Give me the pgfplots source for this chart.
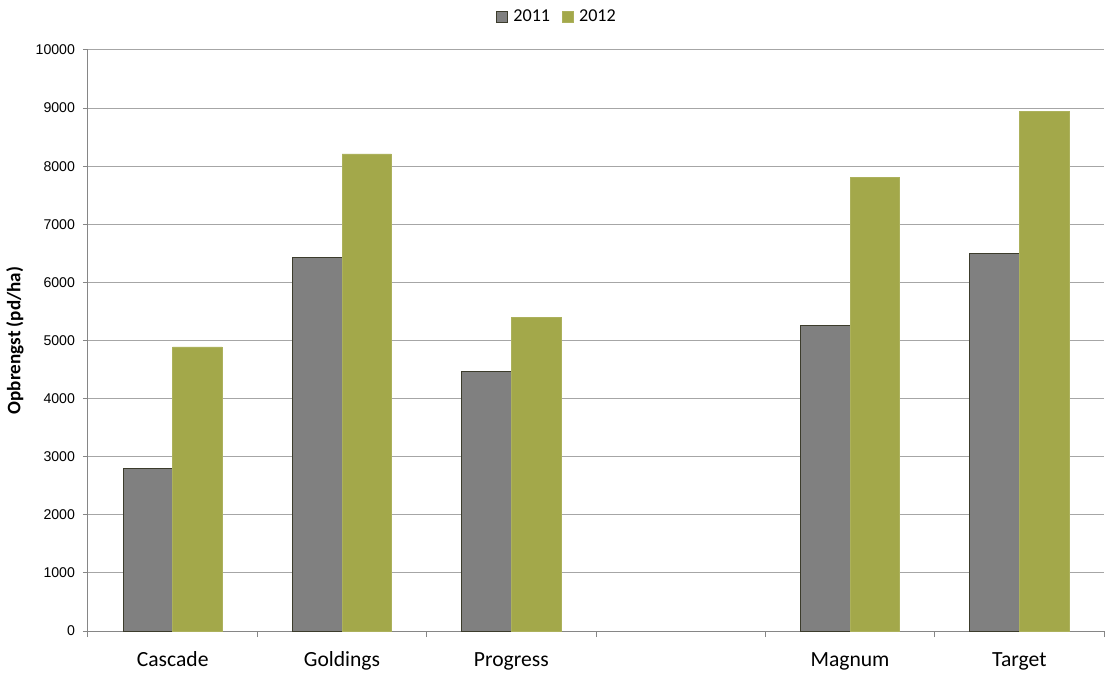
\documentclass[border=0pt]{standalone}
\usepackage{fontspec}
\setmainfont{Carlito}
\newfontfamily\arialf{Liberation Sans}
\usepackage{pgfplots}
\pgfplotsset{compat=1.18}
\definecolor{barGray}{HTML}{808080}
\definecolor{barEdge}{HTML}{3C3C2C}
\definecolor{barGreen}{HTML}{A3A84A}
\definecolor{gridGray}{HTML}{A6A6A6}
\definecolor{axGray}{HTML}{868686}

\begin{document}
\begin{tikzpicture}
\begin{axis}[
    scale only axis,
    width=762pt, height=435.75pt,
    xmin=-0.5, xmax=5.5,
    ymin=0, ymax=10000,
    ytick={0,1000,...,10000},
    scaled y ticks=false,
    xtick={0,1,2,3,4,5},
    xticklabels={Cascade,Goldings,Progress,,Magnum,Target},
    minor xtick={-0.5,0.5,...,5.5},
    major x tick style={draw=none},
    tick align=outside,
    major tick length=3.75pt,
    minor tick length=4.5pt,
    axis x line*=bottom,
    axis y line*=left,
    axis line style={axGray, line width=0.75pt},
    every tick/.style={axGray, line width=0.75pt},
    ymajorgrids,
    grid style={gridGray, line width=0.75pt},
    /pgf/number format/assume math mode=true,
    /pgf/number format/set thousands separator={},
    yticklabel style={font=\arialf\fontsize{10.6}{12}\selectfont, text=black, xshift=-2.5pt},
    xticklabel style={font=\fontsize{16.2}{19}\selectfont, anchor=base, yshift=-23pt},
    every axis y label/.style={at={(axis description cs:-0.0719,0.5)}, rotate=90, anchor=center},
    ylabel={\fontsize{14.3}{17}\selectfont\bfseries Opbrengst (pd/ha)},
    ybar=0pt,
    bar width=0.2923,
    legend columns=2,
    legend style={draw=none, at={(0.4587,1)}, anchor=center, yshift=25pt, xshift=2.5pt,
        font=\fontsize{13.6}{16}\selectfont,
        /tikz/every even column/.append style={column sep=7pt}},
    legend image code/.code={\draw[#1] (0pt,-4.1pt) rectangle (8.25pt,4.1pt);
        \path[draw=none, fill=none] (0pt,0pt) -- (10.5pt,0pt);},
]
\coordinate (o) at (rel axis cs:0,0);
\coordinate (t) at (rel axis cs:1,1);

\addplot[fill=barGray, draw=barEdge, line width=0.75pt, bar shift=-0.14615] coordinates {
    (0, 2790) (1, 6430) (2, 4460) (4, 5250) (5, 6500)
};
\addplot[fill=barGreen, draw=barGreen!90!white, line width=0.4pt, bar shift=0.14615] coordinates {
    (0, 4890) (1, 8210) (2, 5400) (4, 7810) (5, 8950)
};
\legend{2011, 2012}
\end{axis}
\path ([shift={(-66pt,-32.25pt)}]o) rectangle ([shift={(3.75pt,37.5pt)}]t);
\end{tikzpicture}
\end{document}
